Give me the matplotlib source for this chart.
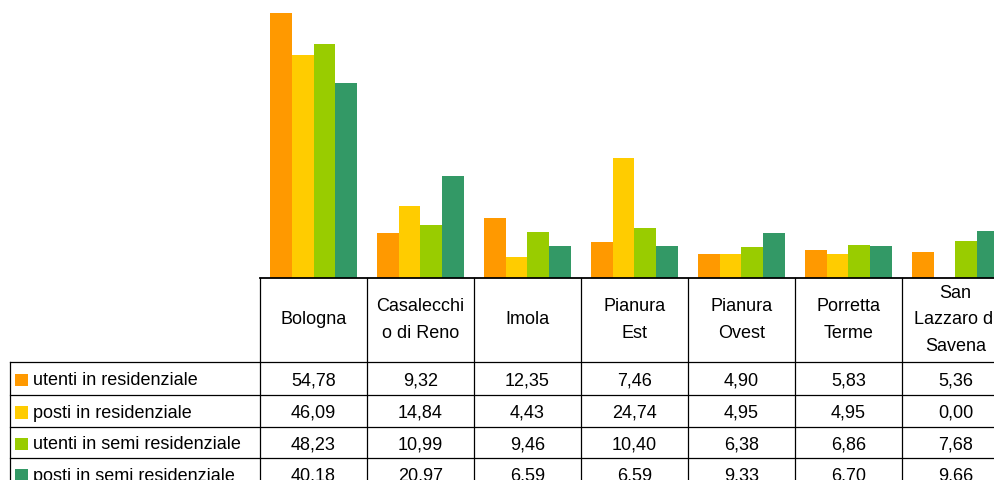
import matplotlib
matplotlib.use('Agg')
import matplotlib.pyplot as plt
from matplotlib.patches import Rectangle

plt.rcParams['font.family'] = ['Liberation Sans', 'DejaVu Sans']

# data
categories = ["Bologna", "Casalecchi\no di Reno", "Imola", "Pianura\nEst",
              "Pianura\nOvest", "Porretta\nTerme", "San\nLazzaro di\nSavena"]
series = ["utenti in residenziale", "posti in residenziale",
          "utenti in semi residenziale", "posti in semi residenziale"]
utenti_res = [54.78, 9.32, 12.35, 7.46, 4.90, 5.83, 5.36]
posti_res = [46.09, 14.84, 4.43, 24.74, 4.95, 4.95, 0.00]
utenti_semi = [48.23, 10.99, 9.46, 10.40, 6.38, 6.86, 7.68]
posti_semi = [40.18, 20.97, 6.59, 6.59, 9.33, 6.70, 9.66]
colors = ['#FF9900', '#FFCC00', '#99CC00', '#339966']

values = [utenti_res, posti_res, utenti_semi, posti_semi]

W, H = 995, 481
fig = plt.figure(figsize=(W / 100, H / 100), dpi=100)

# layout in pixels
x0 = 260          # left of plot / table columns
col_w = 107
base_y = 279      # x axis line
row_y = [363, 396, 428, 459, 491]
left_x = 9.5

# bars
ax = fig.add_axes([x0 / W, (H - base_y) / H, col_w * 7 / W, base_y / H])
bw = 0.205
for i, (vals, c) in enumerate(zip(values, colors)):
    xs = [k + (i - 1.5) * bw for k in range(len(vals))]
    ax.bar(xs, vals, width=bw, color=c, linewidth=0)
ax.set_xlim(-0.5, 6.5)
ax.set_ylim(0, 57.6)
ax.axis('off')

# table overlay in pixel coordinates
tb = fig.add_axes([0, 0, 1, 1], zorder=5)
tb.set_xlim(0, W)
tb.set_ylim(H, 0)
tb.axis('off')
tb.patch.set_alpha(0)

lc = '#000000'
lw = 0.9
bounds = [x0 + col_w * k for k in range(8)]
tb.plot([x0, W + 20], [base_y, base_y], color=lc, lw=1.3, clip_on=False)
for y in row_y[:-1]:
    tb.plot([left_x, W + 20], [y, y], color=lc, lw=lw)
for bx in bounds:
    tb.plot([bx, bx], [base_y, row_y[-1]], color=lc, lw=lw)
tb.plot([left_x, left_x], [row_y[0], row_y[-1]], color=lc, lw=lw)

fs = 13
hdr_y = (base_y + row_y[0]) / 2
for k, cat in enumerate(categories):
    cx = x0 + col_w * (k + 0.5)
    tb.text(cx, hdr_y - 1, cat, ha='center', va='center', fontsize=fs,
            linespacing=1.7, multialignment='center', color='#000000')

for r, (name, vals, c) in enumerate(zip(series, values, colors)):
    cy = (row_y[r] + row_y[r + 1]) / 2 + 1.5
    tb.add_patch(Rectangle((15, cy - 6.5), 12.5, 12.5, color=c, lw=0))
    tb.text(33, cy, name, ha='left', va='center', fontsize=fs, color='#000000')
    for k, v in enumerate(vals):
        cx = x0 + col_w * (k + 0.5)
        tb.text(cx, cy, f"{v:.2f}".replace('.', ','), ha='center', va='center',
                fontsize=fs, color='#000000')

fig.savefig('out.png', dpi=100)
